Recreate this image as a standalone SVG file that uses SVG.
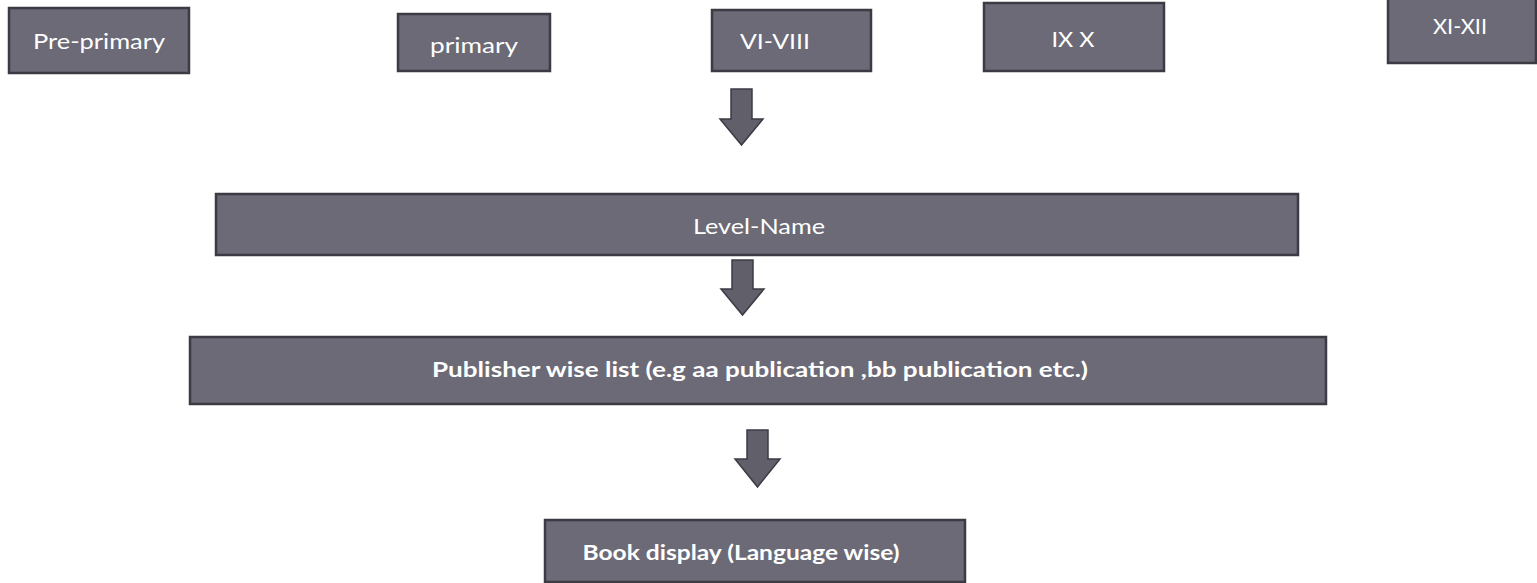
<svg xmlns="http://www.w3.org/2000/svg" width="1537" height="583" viewBox="0 0 1537 583">
<style>
.box{fill:#6b6a76;stroke:#3c3b44;stroke-width:2.5}
.t{fill:#ffffff;font-family:Lato,"Open Sans","Liberation Sans",sans-serif;font-size:22px;text-anchor:middle;dominant-baseline:central}
.b{font-weight:bold;font-size:21px}
.arr{fill:#605f6a;stroke:#3c3b44;stroke-width:1.5}
</style>
<rect width="1537" height="583" fill="#ffffff"/>
<g id="pre-primary"><rect class="box" x="9" y="8" width="180" height="65"/><text class="t" x="99" y="40" textLength="132" lengthAdjust="spacingAndGlyphs">Pre-primary</text></g>
<g id="primary"><rect class="box" x="398" y="14" width="152" height="57"/><text class="t" x="474" y="44" textLength="88" lengthAdjust="spacingAndGlyphs">primary</text></g>
<g id="vi-viii"><rect class="box" x="712" y="10" width="159" height="61"/><text class="t" x="775" y="40" textLength="70" lengthAdjust="spacingAndGlyphs">VI-VIII</text></g>
<g id="ix-x"><rect class="box" x="984" y="3" width="180" height="68"/><text class="t" x="1073" y="38" textLength="43" lengthAdjust="spacingAndGlyphs">IX X</text></g>
<g id="xi-xii"><rect class="box" x="1388" y="-2" width="148" height="65"/><text class="t" x="1460" y="25" textLength="54" lengthAdjust="spacingAndGlyphs">XI-XII</text></g>
<g id="level-name"><rect class="box" x="216" y="194" width="1082" height="61"/><text class="t" x="759" y="225" textLength="132" lengthAdjust="spacingAndGlyphs">Level-Name</text></g>
<g id="publisher"><rect class="box" x="190" y="337" width="1136" height="67"/><text class="t b" x="760" y="368" textLength="656" lengthAdjust="spacingAndGlyphs">Publisher wise list (e.g aa publication ,bb publication etc.)</text></g>
<g id="book-display"><rect class="box" x="545" y="520" width="420" height="62"/><text class="t b" x="741" y="551" textLength="317" lengthAdjust="spacingAndGlyphs">Book display (Language wise)</text></g>
<g id="connectors">
<path class="arr" d="M731,89 H752 V119 H763 L741.5,145 L720,119 H731 Z"/>
<path class="arr" d="M732,260 H753 V289 H764 L742.5,315 L721,289 H732 Z"/>
<path class="arr" d="M747,430 H768 V459 H780 L757.5,487 L735,459 H747 Z"/>
</g>
</svg>
